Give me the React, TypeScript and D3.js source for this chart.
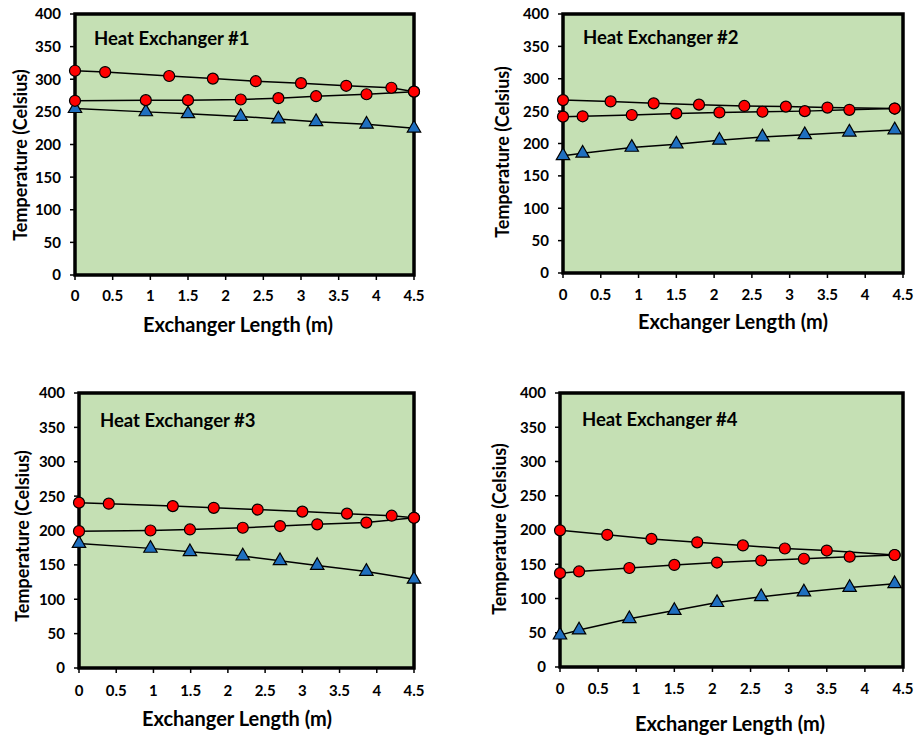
import React from 'react';
import * as d3 from 'd3';

const titles = ['Heat Exchanger #1', 'Heat Exchanger #2', 'Heat Exchanger #3', 'Heat Exchanger #4'];
const yTicks = [0, 50, 100, 150, 200, 250, 300, 350, 400];
const xTicks = [0, 0.5, 1, 1.5, 2, 2.5, 3, 3.5, 4, 4.5];
const xTickLabels = ['0', '0.5', '1', '1.5', '2', '2.5', '3', '3.5', '4', '4.5'];
const yAxisTitle = 'Temperature (Celsius)';
const xAxisTitle = 'Exchanger Length (m)';

// Heat exchanger #1
const hx1HotX = [0, 0.4, 1.25, 1.83, 2.4, 3.0, 3.6, 4.2, 4.5];
const hx1HotY = [313, 311, 305, 301, 297, 294, 290, 287, 281];
const hx1MidX = [0, 0.94, 1.5, 2.2, 2.7, 3.2, 3.87, 4.5];
const hx1MidY = [267, 268, 268, 269, 271, 274, 277, 281];
const hx1ColdY = [255, 250, 247, 243, 239, 235, 231, 225];

// Heat exchanger #2
const hx2HotX = [0, 0.63, 1.2, 1.8, 2.4, 2.95, 3.5, 4.39];
const hx2HotY = [267, 265, 262, 260, 258, 257, 255.5, 254];
const hx2MidX = [0, 0.26, 0.91, 1.5, 2.07, 2.64, 3.2, 3.79, 4.39];
const hx2MidY = [241.5, 242, 244, 246.5, 248, 249, 250, 252, 254];
const hx2ColdY = [181, 185, 194, 199, 205, 210, 213.5, 217.5, 221];

// Heat exchanger #3
const hx3HotX = [0, 0.4, 1.26, 1.81, 2.4, 3.0, 3.6, 4.2, 4.5];
const hx3HotY = [240.5, 239, 235.5, 233, 230.5, 227.5, 224.5, 221.5, 218.5];
const hx3MidX = [0, 0.96, 1.49, 2.2, 2.7, 3.2, 3.86, 4.5];
const hx3MidY = [199, 200, 201.5, 204, 206.5, 209, 211.5, 218.5];
const hx3ColdY = [181, 174, 169, 163, 156, 149, 140.5, 129];

// Heat exchanger #4
const hx4HotX = [0, 0.62, 1.2, 1.8, 2.4, 2.95, 3.5, 4.39];
const hx4HotY = [199.5, 193, 187, 182, 177.5, 173, 170, 163.5];
const hx4MidX = [0, 0.25, 0.91, 1.5, 2.06, 2.64, 3.2, 3.8, 4.39];
const hx4MidY = [137, 139.5, 144.5, 149, 152.5, 155.5, 158, 161, 163.5];
const hx4ColdY = [46.5, 54, 70.5, 82.5, 94, 102.5, 109.5, 116, 121.5];

const zip = (xs: number[], ys: number[]) => xs.map((x, i) => [x, ys[i]] as [number, number]);

const panelsData = [
  { hot: zip(hx1HotX, hx1HotY), mid: zip(hx1MidX, hx1MidY), cold: zip(hx1MidX, hx1ColdY) },
  { hot: zip(hx2HotX, hx2HotY), mid: zip(hx2MidX, hx2MidY), cold: zip(hx2MidX, hx2ColdY) },
  { hot: zip(hx3HotX, hx3HotY), mid: zip(hx3MidX, hx3MidY), cold: zip(hx3MidX, hx3ColdY) },
  { hot: zip(hx4HotX, hx4HotY), mid: zip(hx4MidX, hx4MidY), cold: zip(hx4MidX, hx4ColdY) },
];

const layouts = [
  { left: 75, right: 414, top: 14, bottom: 275, yLabX: 21, yLabY: 155, xTitX: 238, xTitY: 325, tickY: 296, titX: 94, titY: 38 },
  { left: 563, right: 903, top: 14, bottom: 273, yLabX: 503, yLabY: 152, xTitX: 733, xTitY: 322, tickY: 295, titX: 583, titY: 37 },
  { left: 79, right: 414, top: 393, bottom: 668, yLabX: 23, yLabY: 536, xTitX: 237, xTitY: 719, tickY: 691, titX: 100, titY: 420 },
  { left: 560, right: 903, top: 393, bottom: 667, yLabX: 500, yLabY: 529, xTitX: 730, xTitY: 724, tickY: 689, titX: 582, titY: 419 },
];

const FONT = 'Lato, "Open Sans", sans-serif';
const GREEN = '#c5e0b4';
const RED = '#ff0000';
const BLUE = '#1f6fbf';

function Panel({ idx }: { idx: number }) {
  const L = layouts[idx];
  const D = panelsData[idx];
  const x = d3.scaleLinear().domain([0, 4.5]).range([L.left, L.right]);
  const y = d3.scaleLinear().domain([0, 400]).range([L.bottom, L.top]);
  const line = d3.line<[number, number]>().x(d => x(d[0])).y(d => y(d[1]));
  const tri = d3.symbol().type(d3.symbolTriangle).size(78)() as string;
  return (
    <g>
      <rect x={L.left} y={L.top} width={L.right - L.left} height={L.bottom - L.top} fill={GREEN} />
      {yTicks.map(t => (
        <g key={'y' + t}>
          <line x1={L.left - 5} x2={L.left} y1={y(t)} y2={y(t)} stroke="#000" strokeWidth={1.5} />
          <text x={L.left - 14} y={y(t)} dy="0.36em" textAnchor="end" fontFamily={FONT} fontWeight={700} fontSize={15}>{t}</text>
        </g>
      ))}
      {xTicks.map((t, i) => (
        <g key={'x' + t}>
          <line x1={x(t)} x2={x(t)} y1={L.bottom} y2={L.bottom + 5} stroke="#000" strokeWidth={1.5} />
          <text x={x(t)} y={L.tickY} dy="0.36em" textAnchor="middle" fontFamily={FONT} fontWeight={700} fontSize={15}>{xTickLabels[i]}</text>
        </g>
      ))}
      <path d={line(D.hot) as string} fill="none" stroke="#000" strokeWidth={1.5} />
      <path d={line(D.mid) as string} fill="none" stroke="#000" strokeWidth={1.5} />
      <path d={line(D.cold) as string} fill="none" stroke="#000" strokeWidth={1.5} />
      <rect x={L.left} y={L.top} width={L.right - L.left} height={L.bottom - L.top} fill="none" stroke="#000" strokeWidth={3.5} />
      {D.cold.map((d, i) => (
        <path key={'c' + i} d={tri} transform={`translate(${x(d[0])},${y(d[1])})`} fill={BLUE} stroke="#000" strokeWidth={1.2} />
      ))}
      {D.mid.map((d, i) => (
        <circle key={'m' + i} cx={x(d[0])} cy={y(d[1])} r={5.5} fill={RED} stroke="#000" strokeWidth={1.2} />
      ))}
      {D.hot.map((d, i) => (
        <circle key={'h' + i} cx={x(d[0])} cy={y(d[1])} r={5.5} fill={RED} stroke="#000" strokeWidth={1.2} />
      ))}
      <text x={L.titX} y={L.titY} dy="0.36em" fontFamily={FONT} fontWeight={700} fontSize={18.5}>{titles[idx]}</text>
      <text transform={`translate(${L.yLabX},${L.yLabY}) rotate(-90)`} dy="0.36em" textAnchor="middle" fontFamily={FONT} fontWeight={700} fontSize={18}>{yAxisTitle}</text>
      <text x={L.xTitX} y={L.xTitY} dy="0.36em" textAnchor="middle" fontFamily={FONT} fontWeight={700} fontSize={20}>{xAxisTitle}</text>
    </g>
  );
}

export default function App() {
  return (
    <svg width={918} height={740} style={{ position: 'absolute', left: 0, top: 0, background: '#fff' }}>
      {[0, 1, 2, 3].map(i => <Panel key={i} idx={i} />)}
    </svg>
  );
}
